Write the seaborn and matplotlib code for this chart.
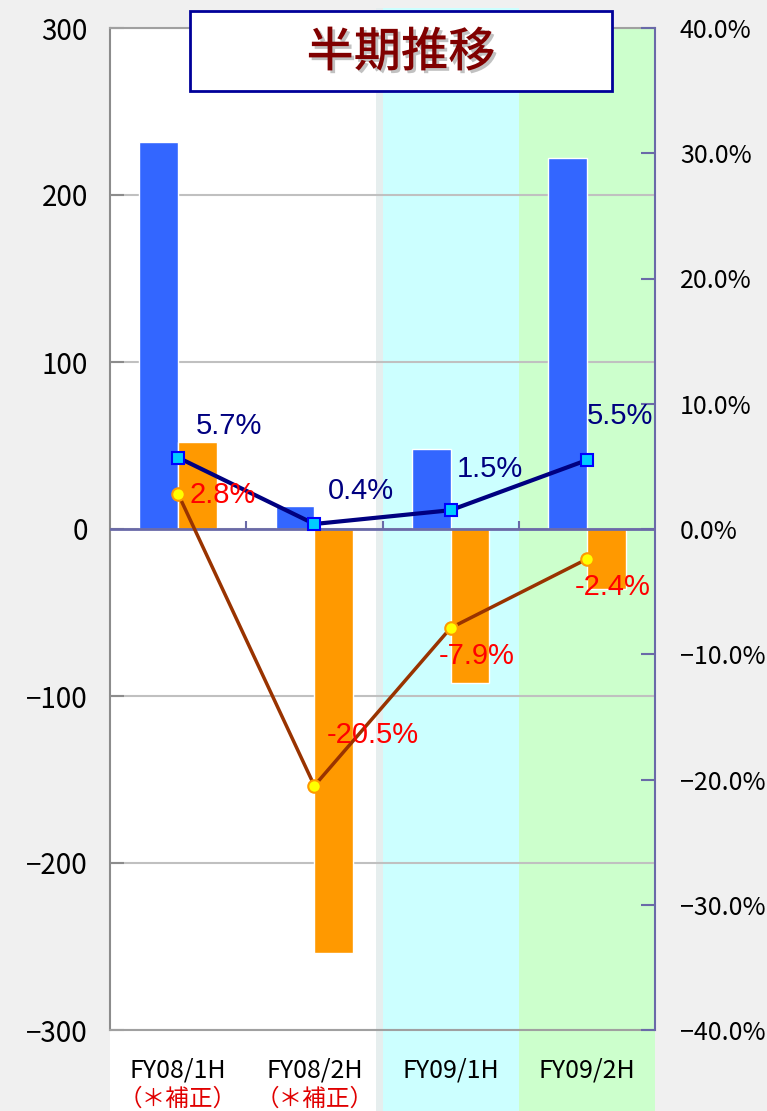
import matplotlib
matplotlib.use('Agg')
import matplotlib.pyplot as plt
import matplotlib.patheffects as pe
from matplotlib.patches import Rectangle
import pandas as pd
import seaborn as sns

# ------------------------------------------------------------------
# data
# ------------------------------------------------------------------
categories = ['FY08/1H', 'FY08/2H', 'FY09/1H', 'FY09/2H']
sub_labels = ['（＊補正）', '（＊補正）', '', '']
bar_blue = [232, 14, 48, 222]
bar_orange = [52, -254, -92, -36]
rate_blue = [5.7, 0.4, 1.5, 5.5]
rate_orange = [2.8, -20.5, -7.9, -2.4]
left_ticks = [-300, -200, -100, 0, 100, 200, 300]
right_ticks = [-40, -30, -20, -10, 0, 10, 20, 30, 40]
title = '半期推移'

# label offsets in pixels (x, y) from each line point
blue_offsets = [(51, 32), (47, 33), (39, 41), (33, 44)]
orange_offsets = [(45, -1), (58, 51), (26, -28), (26, -28)]

sns.set_theme(style='white')
plt.rcParams['font.family'] = ['Noto Sans CJK JP', 'DejaVu Sans']
plt.rcParams['text.color'] = 'black'

W, H = 767, 1111
fig = plt.figure(figsize=(W / 100, H / 100), dpi=100, facecolor='#f0f0f0')
ax = fig.add_axes([110 / W, 81 / H, 545 / W, 1002 / H])
ax.set_facecolor('white')

# background bands (extend below the plot into the label area)
tr = ax.get_xaxis_transform()
ax.add_patch(Rectangle((-0.5, -0.09), 2.0, 1.09, transform=tr, facecolor='white',
                       edgecolor='none', clip_on=False, zorder=0.1))
ax.add_patch(Rectangle((1.45, -0.09), 0.05, 1.11, transform=tr, facecolor='#e6eeee',
                       edgecolor='none', clip_on=False, zorder=0.1))
ax.add_patch(Rectangle((1.5, -0.09), 1.0, 1.11, transform=tr, facecolor='#ccffff',
                       edgecolor='none', clip_on=False, zorder=0.1))
ax.add_patch(Rectangle((2.5, -0.09), 1.0, 1.09, transform=tr, facecolor='#ccffcc',
                       edgecolor='none', clip_on=False, zorder=0.1))

# bars
df = pd.DataFrame({
    'period': categories * 2,
    'value': bar_blue + bar_orange,
    'series': ['a'] * 4 + ['b'] * 4,
})
sns.barplot(data=df, x='period', y='value', hue='series', palette=['#3366ff', '#ff9900'],
            saturation=1, width=0.57, edgecolor='white', linewidth=1, legend=False,
            ax=ax, zorder=2)

ax.set_xlim(-0.5, 3.5)
ax.set_ylim(-300, 300)
ax.set_yticks(left_ticks)
ax.set_yticklabels([str(v).replace('-', '−') for v in left_ticks])
ax.set_axisbelow(True)
ax.yaxis.grid(True, color='#c0c0c0', lw=1.5)
ax.xaxis.grid(False)
ax.set_xlabel('')
ax.set_ylabel('')

for s in ['left', 'top', 'bottom']:
    ax.spines[s].set_color('#a0a0a0')
    ax.spines[s].set_linewidth(1.5)
ax.spines['left'].set_color('#8c8c8c')
ax.spines['right'].set_visible(False)
ax.tick_params(axis='y', direction='in', length=10, width=1.5, color='#8c8c8c',
               labelsize=20, pad=16, left=True, labelcolor='black')
ax.tick_params(axis='x', length=0, labelsize=18, pad=20, labelcolor='black')

for i, s in enumerate(sub_labels):
    if s:
        ax.text(i, -0.069, s, transform=tr, ha='center', va='center',
                fontsize=17, color='#e00000')

# zero line with small boundary ticks
ax.axhline(0, color='#6a6aa8', lw=2, zorder=3)
ax.vlines([0.5, 1.5, 2.5], 0, 4.5, color='#6a6aa8', lw=1.5, zorder=3)

# rate lines on the right axis
ax2 = ax.twinx()
sns.lineplot(x=range(4), y=rate_blue, ax=ax2, color='#000080', lw=3, marker='s',
             markersize=9, markerfacecolor='#00ccff', markeredgecolor='#0000ff',
             markeredgewidth=1.5, zorder=5)
sns.lineplot(x=range(4), y=rate_orange, ax=ax2, color='#993300', lw=2.5, marker='o',
             markersize=9, markerfacecolor='#ffff00', markeredgecolor='#ff9900',
             markeredgewidth=1.5, zorder=5)
ax2.set_ylim(-40, 40)
ax2.set_yticks(right_ticks)
ax2.set_yticklabels([f'{v:.1f}%'.replace('-', '−') for v in right_ticks])
ax2.grid(False)
for s in ['left', 'top', 'bottom']:
    ax2.spines[s].set_visible(False)
ax2.spines['right'].set_color('#6a6aa8')
ax2.spines['right'].set_linewidth(1.5)
ax2.tick_params(axis='y', direction='in', length=10, width=1.5, color='#6a6aa8',
                labelsize=18, pad=18, right=True, labelcolor='black')

for i, (v, off) in enumerate(zip(rate_blue, blue_offsets)):
    ax2.annotate(f'{v}%', (i, v), xytext=off, textcoords='offset pixels', ha='center',
                 va='center', fontsize=21, color='#000080', family='Liberation Sans', zorder=6)
for i, (v, off) in enumerate(zip(rate_orange, orange_offsets)):
    ax2.annotate(f'{v}%', (i, v), xytext=off, textcoords='offset pixels', ha='center',
                 va='center', fontsize=21, color='#ff0000', family='Liberation Sans', zorder=6)

# title box
fig.add_artist(Rectangle((190 / W, 1 - 91 / H), 422 / W, 80 / H, transform=fig.transFigure,
                         facecolor='white', edgecolor='#000099', lw=2, zorder=10))
fig.text(401 / W, 1 - 53 / H, title, ha='center', va='center', fontsize=34,
         fontweight='medium', color='#800000', zorder=11,
         path_effects=[pe.withSimplePatchShadow(offset=(2, -2), shadow_rgbFace='#999999', alpha=0.6)])

fig.savefig('out.png', dpi=100, facecolor=fig.get_facecolor())
